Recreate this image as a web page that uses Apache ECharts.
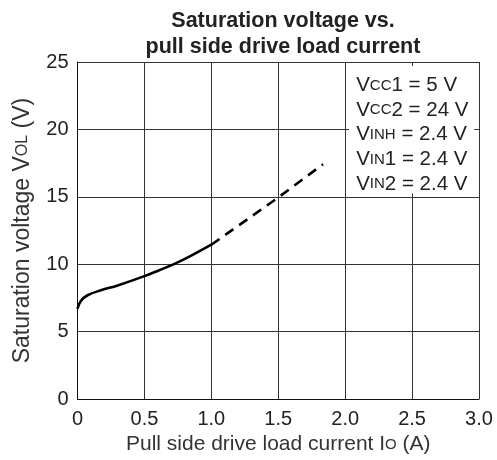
<!DOCTYPE html>
<html>
<head>
<meta charset="utf-8">
<script src="https://cdn.jsdelivr.net/npm/echarts@6/dist/echarts.min.js"></script>
<style>
  html, body { margin: 0; padding: 0; background: #fff; }
  #chart { width: 497px; height: 460px; }
</style>
</head>
<body>
<div id="chart"></div>
<script>
// measured curve (solid part), current in A, voltage in V
const solidCurrent = [0, 0.025, 0.075, 0.175, 0.3, 0.5, 0.61, 0.725, 0.85, 1.0];
const solidVoltage = [6.7, 7.28, 7.7, 8.07, 8.43, 9.12, 9.56, 10.03, 10.64, 11.45];
// extrapolated (dashed) part
const dashCurrent = [1.0, 1.5, 1.835];
const dashVoltage = [11.45, 14.95, 17.42];
const xTickLabels = ["0", "0.5", "1.0", "1.5", "2.0", "2.5", "3.0"];
const yTickLabels = ["0", "5", "10", "15", "20", "25"];
const conditions = [
  ["V", "CC", "1 = 5 V"],
  ["V", "CC", "2 = 24 V"],
  ["V", "INH", " = 2.4 V"],
  ["V", "IN", "1 = 2.4 V"],
  ["V", "IN", "2 = 2.4 V"],
];

const font = "Liberation Sans, Arial, sans-serif";
const ink = "#222";

const chart = echarts.init(document.getElementById("chart"), null, { renderer: "canvas" });

const condText = conditions.map((c) => c[0] + "{s|" + c[1] + "}" + c[2]).join("\n");

chart.setOption({
  animation: false,
  title: {
    text: "Saturation voltage vs.\npull side drive load current",
    left: 278,
    top: 3,
    textAlign: "center",
    textStyle: {
      fontFamily: font,
      fontSize: 21.5,
      fontWeight: "bold",
      lineHeight: 26,
      color: ink,
    },
  },
  grid: { left: 77.5, right: 18, top: 62, bottom: 59.5 },
  xAxis: {
    type: "value",
    min: 0,
    max: 3,
    interval: 0.5,
    name: "Pull side drive load current I{s|O} (A)",
    nameLocation: "middle",
    nameGap: 30,
    nameTextStyle: {
      fontFamily: font,
      fontSize: 21,
      color: "#333",
      rich: { s: { fontSize: 15, fontFamily: font, color: "#333" } },
    },
    axisLine: { show: true, lineStyle: { color: "#111", width: 1 } },
    axisTick: { show: false },
    axisLabel: {
      fontFamily: font,
      fontSize: 20,
      color: ink,
      margin: 10,
      formatter: (v) => xTickLabels[Math.round(v / 0.5)],
    },
    splitLine: { show: true, lineStyle: { color: "#333", width: 1 } },
  },
  yAxis: {
    type: "value",
    min: 0,
    max: 25,
    interval: 5,
    name: "Saturation voltage V{s|OL} (V)",
    nameLocation: "middle",
    nameGap: 43,
    nameRotate: 90,
    nameTextStyle: {
      fontFamily: font,
      fontSize: 23,
      color: "#333",
      rich: { s: { fontSize: 16, fontFamily: font, color: "#333" } },
    },
    axisLine: { show: true, lineStyle: { color: "#111", width: 1 } },
    axisTick: { show: false },
    axisLabel: {
      fontFamily: font,
      fontSize: 20,
      color: ink,
      margin: 9,
      formatter: (v) => yTickLabels[Math.round(v / 5)],
    },
    splitLine: { show: true, lineStyle: { color: "#333", width: 1 } },
  },
  series: [
    {
      name: "measured",
      type: "line",
      data: solidCurrent.map((x, i) => [x, solidVoltage[i]]),
      smooth: 0.4,
      symbol: "none",
      lineStyle: { color: "#000", width: 2.6 },
      z: 5,
      markArea: {
        silent: true,
        itemStyle: { color: "#fff", borderWidth: 0 },
        label: {
          show: true,
          position: [7, 7],
          formatter: condText,
          fontFamily: font,
          fontSize: 20.5,
          lineHeight: 24.7,
          color: ink,
          rich: {
            s: { fontSize: 15, fontFamily: font, color: ink },
          },
        },
        data: [[{ coord: [2.03, 24.7] }, { coord: [2.965, 15.25] }]],
      },
    },
    {
      name: "extrapolated",
      type: "line",
      data: dashCurrent.map((x, i) => [x, dashVoltage[i]]),
      symbol: "none",
      lineStyle: { color: "#000", width: 2.6, type: [10, 7] },
      z: 5,
    },
  ],
});
</script>
</body>
</html>
